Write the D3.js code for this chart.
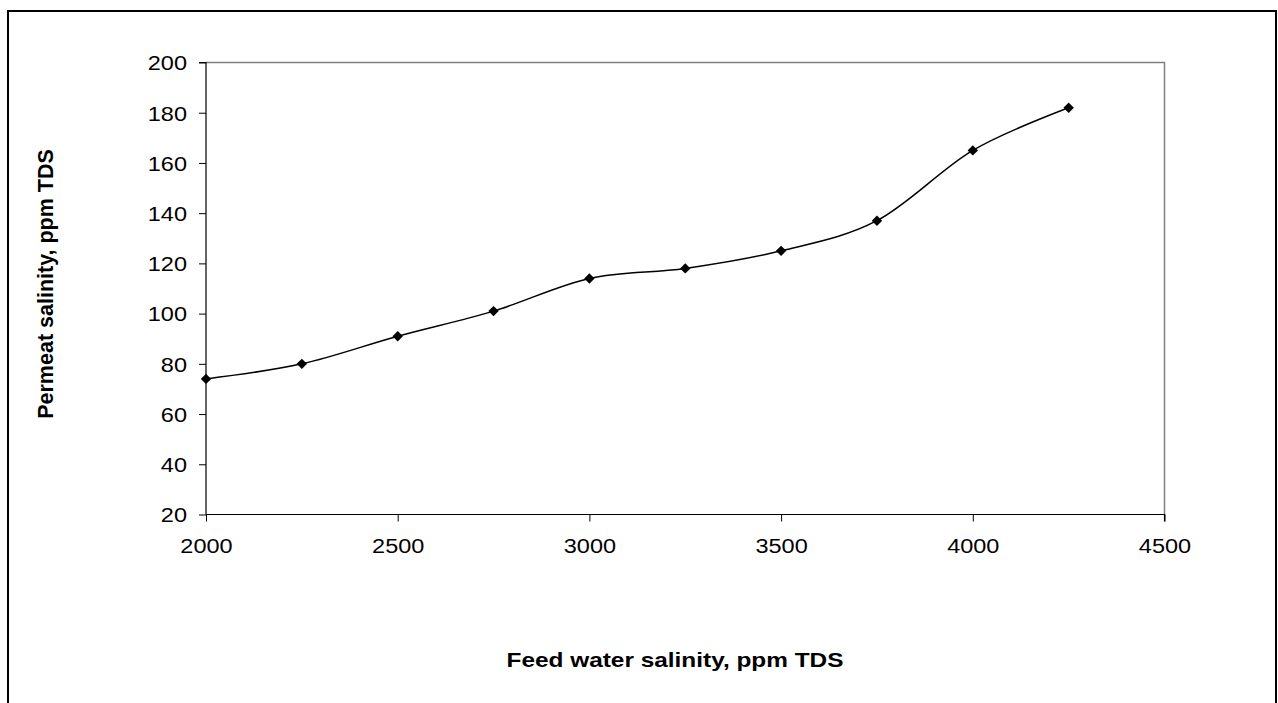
<!DOCTYPE html>
<html><head><meta charset="utf-8">
<script src="https://cdn.jsdelivr.net/npm/d3@7"></script>
<style>body{margin:0;background:#fff}svg{display:block}</style>
</head><body>
<svg id="c" width="1278" height="703"></svg>
<script>
const feedSalinity = [2000, 2250, 2500, 2750, 3000, 3250, 3500, 3750, 4000, 4250];
const permeatSalinity = [74, 80, 91, 101, 114, 118, 125, 137, 165, 182];
const xTicks = [2000, 2500, 3000, 3500, 4000, 4500];
const yTicks = [20, 40, 60, 80, 100, 120, 140, 160, 180, 200];
const xTitle = "Feed water salinity, ppm TDS";
const yTitle = "Permeat salinity, ppm TDS";

const svg = d3.select("#c");
const font = "Liberation Sans, Arial, sans-serif";
// outer frame
svg.append("path").attr("d", "M8,704 L8,11 L1276,11 L1276,704")
  .attr("fill", "none").attr("stroke", "#000").attr("stroke-width", 2);

const L = 206, R = 1164.5, T = 62.5, B = 514.5;
const x = d3.scaleLinear().domain([2000, 4500]).range([L, R]);
const y = d3.scaleLinear().domain([20, 200]).range([B, T]);

// plot frame top/right gray
svg.append("path").attr("d", `M${L},${T} L${R},${T} L${R},${B}`)
  .attr("fill", "none").attr("stroke", "#808080").attr("stroke-width", 1.5);

const yAxis = svg.append("g").attr("transform", `translate(${L},0)`)
  .call(d3.axisLeft(y).tickValues(yTicks).tickSize(7).tickPadding(12).tickFormat(d3.format("d")));
const xAxis = svg.append("g").attr("transform", `translate(0,${B})`)
  .call(d3.axisBottom(x).tickValues(xTicks).tickSize(7).tickPadding(16.5).tickFormat(d3.format("d")));
const sx = 1.12;
[yAxis, xAxis].forEach(a => {
  a.select(".domain").attr("stroke", "#000").attr("stroke-width", 1.2);
  a.selectAll(".tick line").attr("stroke", "#000");
  a.selectAll("text").attr("font-family", font).attr("font-size", 21).attr("fill", "#000")
    .each(function() {
      const t = d3.select(this);
      const tx = +t.attr("x") || 0, ty = +t.attr("y") || 0;
      t.attr("x", 0).attr("y", 0).attr("transform", `translate(${tx},${ty}) scale(${sx},1)`);
    });
});
yAxis.selectAll("text").attr("dy", "0.35em");
yAxis.select(".domain").attr("d", `M-7,${T}H0V${B}`);
xAxis.select(".domain").attr("d", `M${L},0H${R}V7`);

const pts = feedSalinity.map((v, i) => [x(v), y(permeatSalinity[i])]);
svg.append("path").datum(pts)
  .attr("d", d3.line().curve(d3.curveCardinal.tension(0)))
  .attr("fill", "none").attr("stroke", "#000").attr("stroke-width", 1.5);

svg.selectAll(".m").data(pts).enter().append("path")
  .attr("transform", d => `translate(${d[0]},${d[1]})`)
  .attr("d", "M0,-5.2L5.2,0L0,5.2L-5.2,0Z").attr("fill", "#000");

svg.append("text").attr("transform", "translate(675,667) scale(1.22,1)").attr("text-anchor", "middle")
  .attr("font-family", font).attr("font-size", 20).attr("font-weight", "bold").text(xTitle);
svg.append("text").attr("transform", "translate(53,284) rotate(-90)").attr("text-anchor", "middle")
  .attr("font-family", font).attr("font-size", 21.5).attr("font-weight", "bold").text(yTitle);
</script>
</body></html>
